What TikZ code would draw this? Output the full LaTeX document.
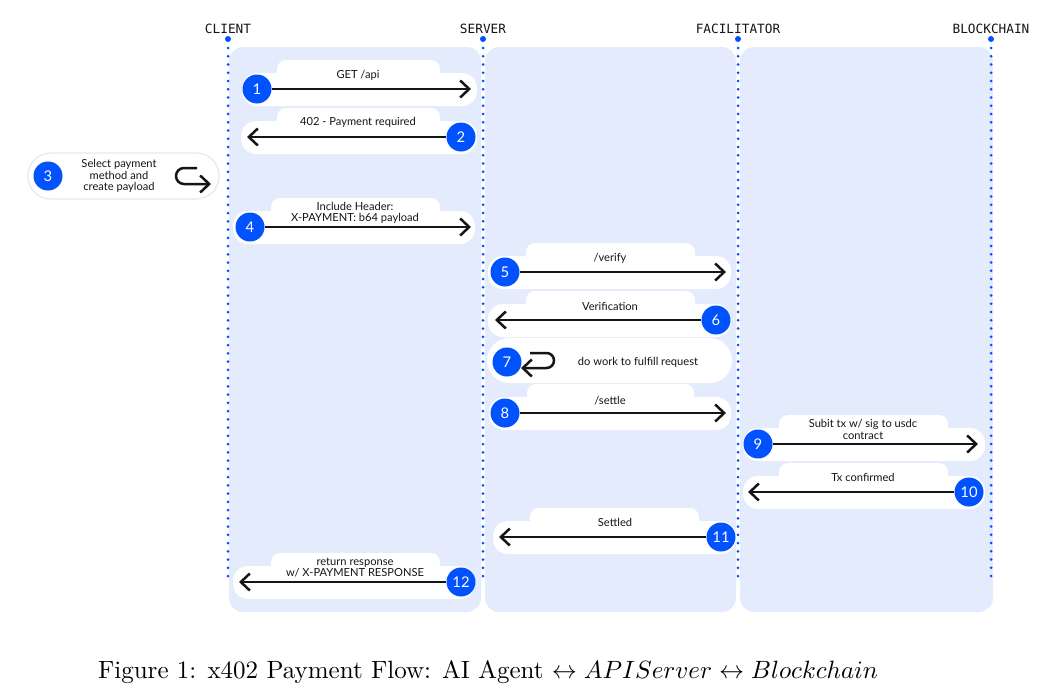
\documentclass[tikz,border=0pt]{standalone}
\usepackage{fontspec}
\usepackage{amsmath}
\usetikzlibrary{arrows.meta}
\newfontfamily\labelfont{Lato}
\newfontfamily\lanefont{DejaVu Sans Mono}
\definecolor{cbblue}{HTML}{0052FF}
\definecolor{lanebg}{HTML}{E4EBFD}
\definecolor{pillrim}{HTML}{E3E9F8}
\definecolor{ink}{HTML}{151515}

\begin{document}
\begin{tikzpicture}[
    x=0.4pt, y=-0.4pt,
    lanepanel/.style={fill=lanebg, rounded corners=5.6pt},
    pill/.style={fill=white, rounded corners=6pt},
    tabbox/.style={fill=white, rounded corners=3.6pt},
    lifeline/.style={cbblue, line width=1.2pt, line cap=round, dash pattern=on 0pt off 3.3pt},
    lanehead/.style={font=\lanefont\fontsize{5.1}{6}\selectfont, text=ink},
    stepnum/.style={circle, fill=cbblue, text=white, minimum size=11.6pt, inner sep=0pt,
                    font=\labelfont\fontsize{5.9}{6}\selectfont},
    msg/.style={draw=ink, line width=1pt, -{Straight Barb[length=3.6pt,width=6.8pt,line width=1pt]}},
    msgtext/.style={font=\labelfont\fontsize{4.45}{4.5}\selectfont, text=ink, align=center},
  ]
  \useasboundingbox (0,0) rectangle (1045,693);

  % lane panels
  \fill[lanepanel] (229,47) rectangle (481,612);
  \fill[lanepanel] (485,47) rectangle (736,612);
  \fill[lanepanel] (740,47) rectangle (993,612);

  % lane heads and lifelines
  \foreach \name/\x/\lbl in {client/228/CLIENT, server/483/SERVER,
                             facil/738/FACILITATOR, chain/991/BLOCKCHAIN} {
    \node[lanehead] (\name) at (\x,29) {\lbl};
    \coordinate (\name top) at (\x,48);
    \coordinate (\name end) at (\x,578);
    \fill[cbblue] (\x,39) circle (1.2pt);
    \draw[lifeline] (\name top) -- (\name end);
  }

  % message pills: left/right/arrow y/tab left/tab right
  \foreach \l/\r/\y/\tl/\tr in {242/477/89/277/440, 241/477/137/277/440,
                                233/475/227/271/440, 488/731/272/526/695,
                                488/731/320/526/695, 489/731/413/527/694,
                                743/985/444/779/948, 743/985/492/779/948,
                                493/736/537/530/699, 233/475/582/271/440} {
    \fill[tabbox] (\tl,\y-29) rectangle (\tr,\y-8);
    \fill[pill] (\l,\y-16) rectangle (\r,\y+17);
  }

  % 1
  \node[stepnum] (s1) at (257,89) {1};
  \coordinate (t1) at (471,89);
  \draw[msg] (s1) -- (t1);
  \node[msgtext] (m1) at (358,75) {GET /api};

  % 2
  \node[stepnum] (s2) at (461,137) {2};
  \coordinate (t2) at (247,137);
  \draw[msg] (s2) -- (t2);
  \node[msgtext] (m2) at (358,122) {402 - Payment required};

  % 3
  \fill[white, draw=pillrim, line width=0.5pt, rounded corners=9pt] (28,153) rectangle (219,199);
  \node[stepnum] (s3) at (48,176) {3};
  \node[msgtext] (m3) at (119,176) {Select payment\\method and\\create payload};
  \draw[msg, rounded corners=3.2pt] (197,168) -- (176,168) -- (176,184) -- (211,184);

  % 4
  \node[stepnum] (s4) at (250,227) {4};
  \coordinate (t4) at (471,227);
  \draw[msg] (s4) -- (t4);
  \node[msgtext] (m4) at (355,212.5) {Include Header:\\X-PAYMENT: b64 payload};

  % 5
  \node[stepnum] (s5) at (505,272) {5};
  \coordinate (t5) at (726,272);
  \draw[msg] (s5) -- (t5);
  \node[msgtext] (m5) at (610,258) {/verify};

  % 6
  \node[stepnum] (s6) at (716,320) {6};
  \coordinate (t6) at (495,320);
  \draw[msg] (s6) -- (t6);
  \node[msgtext] (m6) at (610,306) {Verification};

  % 7
  \fill[pill, rounded corners=9pt] (487,338) rectangle (732,383);
  \node[stepnum] (s7) at (507,362) {7};
  \node[msgtext] (m7) at (638,362) {do work to fulfill request};
  \draw[msg, rounded corners=3pt] (530,353) -- (554,353) -- (554,368) -- (521,368);

  % 8
  \node[stepnum] (s8) at (505,413) {8};
  \coordinate (t8) at (726,413);
  \draw[msg] (s8) -- (t8);
  \node[msgtext] (m8) at (610,401) {/settle};

  % 9
  \node[stepnum] (s9) at (758,444) {9};
  \coordinate (t9) at (978,444);
  \draw[msg] (s9) -- (t9);
  \node[msgtext] (m9) at (863,429.5) {Subit tx w/ sig to usdc\\contract};

  % 10
  \node[stepnum] (s10) at (969,492) {10};
  \coordinate (t10) at (748,492);
  \draw[msg] (s10) -- (t10);
  \node[msgtext] (m10) at (863,477) {Tx confirmed};

  % 11
  \node[stepnum] (s11) at (721,537) {11};
  \coordinate (t11) at (499,537);
  \draw[msg] (s11) -- (t11);
  \node[msgtext] (m11) at (615,522) {Settled};

  % 12
  \node[stepnum] (s12) at (461,582) {12};
  \coordinate (t12) at (239,582);
  \draw[msg] (s12) -- (t12);
  \node[msgtext] (m12) at (355,567.5) {return response\\w/ X-PAYMENT RESPONSE};

  % caption
  \node (caption) at (488,672)
    {Figure 1: x402 Payment Flow: AI Agent $\leftrightarrow APIServer \leftrightarrow Blockchain$};
\end{tikzpicture}
\end{document}
